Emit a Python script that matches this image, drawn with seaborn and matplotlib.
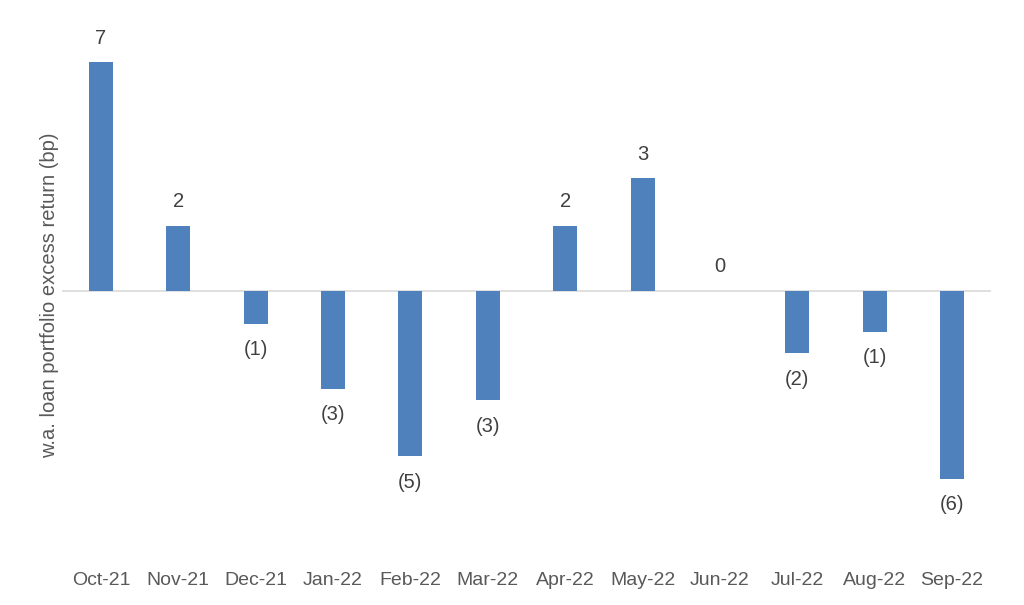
import matplotlib
matplotlib.use("Agg")
import matplotlib.pyplot as plt
import seaborn as sns
import pandas as pd

# Monthly w.a. loan portfolio excess return (bp)
months = ["Oct-21", "Nov-21", "Dec-21", "Jan-22", "Feb-22", "Mar-22",
          "Apr-22", "May-22", "Jun-22", "Jul-22", "Aug-22", "Sep-22"]
excess_bp = [7.0, 2.0, -1.0, -3.0, -5.05, -3.35, 2.0, 3.45, 0.0, -1.9, -1.25, -5.75]
bar_labels = ["7", "2", "(1)", "(3)", "(5)", "(3)", "2", "3", "0", "(2)", "(1)", "(6)"]

sns.set_style("white")
plt.rcParams['font.family'] = ['Liberation Sans', 'DejaVu Sans']

df = pd.DataFrame({"month": months, "excess": excess_bp})

fig = plt.figure(figsize=(10.24, 6.05), dpi=100)
ax = fig.add_axes([0.0608, 0.0744, 0.9067, 0.876])

sns.barplot(data=df, x="month", y="excess", color="#4F81BD", width=0.31,
            saturation=1, linewidth=0, ax=ax)

# zero baseline
ax.axhline(0, color="#d9d9d9", linewidth=1.2, zorder=0)

# data labels, negatives in brackets below the bar
for i, (val, lab) in enumerate(zip(excess_bp, bar_labels)):
    off = 24 if val >= 0 else -26
    ax.annotate(lab, xy=(i, val), xytext=(0, off), textcoords="offset pixels",
                ha="center", va="center", fontsize=14.5, color="#404040")

ax.set_xlim(-0.5, 11.5)
ax.set_ylim(-8.23, 7.98)
ax.set_yticks([])
ax.set_xlabel("")
ax.set_ylabel("w.a. loan portfolio excess return (bp)", fontsize=14.5,
              color="#595959", labelpad=2)
ax.tick_params(axis="x", length=0, pad=9, labelsize=14, labelcolor="#595959")
for s in ax.spines.values():
    s.set_visible(False)

plt.savefig("out.png", dpi=100)
